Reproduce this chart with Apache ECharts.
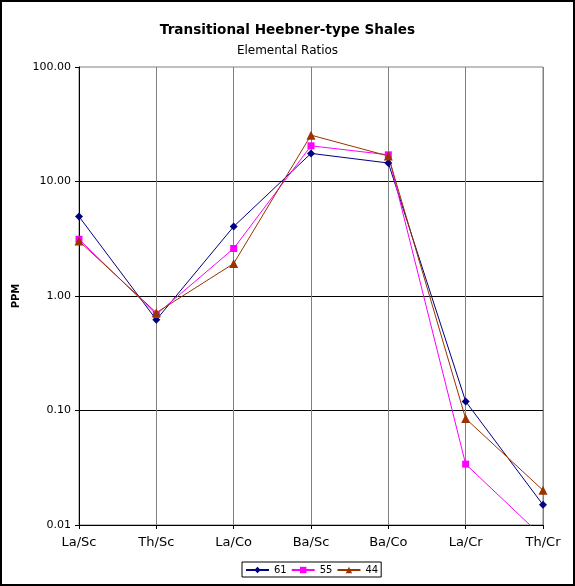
<!DOCTYPE html>
<html><head><meta charset="utf-8">
<script src="https://cdn.jsdelivr.net/npm/echarts@6/dist/echarts.min.js"></script>
<style>html,body{margin:0;padding:0;background:#fff}#c{width:575px;height:586px}</style>
</head><body><div id="c"></div>
<script>
const categories = ['La/Sc','Th/Sc','La/Co','Ba/Sc','Ba/Co','La/Cr','Th/Cr'];
const s61 = [4.94, 0.62, 4.04, 17.6, 14.5, 0.12, 0.015];
const s55 = [3.13, 0.69, 2.6, 20.5, 17.1, 0.034, 0.0078];
const s44 = [3.02, 0.715, 1.92, 25.4, 16.7, 0.085, 0.0201];
const seriesNames = ['61','55','44'];

const F = 'DejaVu Sans';
const chart = echarts.init(document.getElementById('c'), null, {renderer:'canvas'});
chart.setOption({
  animation:false,
  backgroundColor:'#fff',
  textStyle:{fontFamily:F},
  graphic:[{type:'rect',shape:{x:1,y:1,width:573,height:584},style:{fill:'none',stroke:'#000',lineWidth:2},z:100}],
  title:[
    {text:'Transitional Heebner-type Shales',left:'center',top:18,textStyle:{fontFamily:F,fontSize:13.6,fontWeight:'bold',color:'#000'}},
    {text:'Elemental Ratios',left:'center',top:40,textStyle:{fontFamily:F,fontSize:12,fontWeight:'normal',color:'#000'}}
  ],
  legend:{
    data:seriesNames, left:242, top:562, orient:'horizontal',
    borderColor:'#000', borderWidth:1, padding:[3,3,2,3], itemGap:4,
    itemWidth:23, itemHeight:8,
    textStyle:{fontFamily:F,fontSize:10,color:'#000'}
  },
  grid:{left:79,right:32,top:67,bottom:61,show:true,borderColor:'#808080',borderWidth:1},
  xAxis:{
    type:'category', data:categories, boundaryGap:false,
    axisLine:{lineStyle:{color:'#000',width:1}},
    axisTick:{show:true,length:4,inside:false,lineStyle:{color:'#000'}},
    axisLabel:{fontFamily:F,fontSize:13,color:'#000',margin:11},
    splitLine:{show:true,lineStyle:{color:'#808080',width:1}}
  },
  yAxis:{
    type:'log', logBase:10, min:0.01, max:100,
    name:'PPM', nameLocation:'middle', nameRotate:90, nameGap:52,
    nameTextStyle:{fontFamily:F,fontSize:10,fontWeight:'bold',color:'#000'},
    axisLine:{show:true,lineStyle:{color:'#000',width:1}},
    axisTick:{show:true,length:4,lineStyle:{color:'#000'}},
    axisLabel:{fontFamily:F,fontSize:11,color:'#000',margin:8,formatter:v=>Number(v).toFixed(2)},
    splitLine:{show:true,showMaxLine:false,lineStyle:{color:'#000',width:1}},
    minorTick:{show:false}
  },
  series:[
    {name:'61',type:'line',data:s61,symbol:'diamond',symbolSize:8,clip:true,
     lineStyle:{color:'#000080',width:1},itemStyle:{color:'#000080'}},
    {name:'55',type:'line',data:s55,symbol:'rect',symbolSize:7,clip:true,
     lineStyle:{color:'#FF00FF',width:1},itemStyle:{color:'#FF00FF'}},
    {name:'44',type:'line',data:s44,symbol:'triangle',symbolSize:9,clip:true,
     lineStyle:{color:'#993300',width:1},itemStyle:{color:'#993300'}}
  ]
});
</script></body></html>
